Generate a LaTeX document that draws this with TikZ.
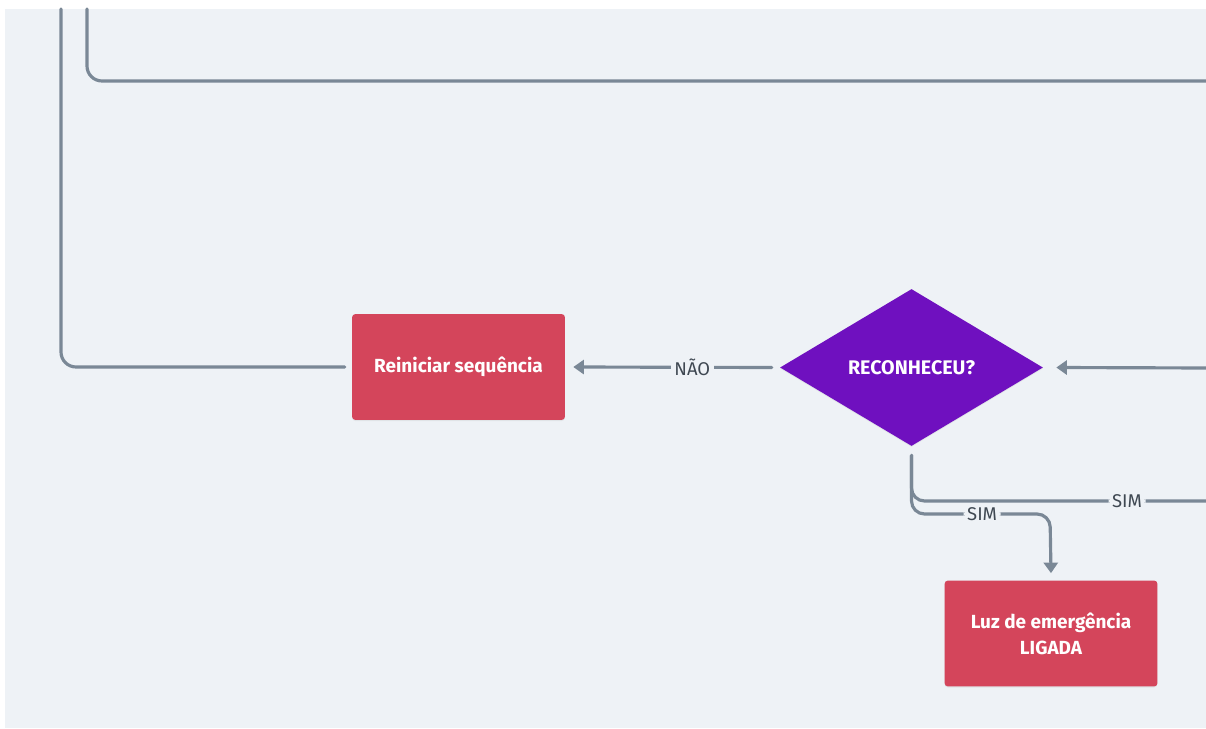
\documentclass[tikz,border=0pt]{standalone}
\usepackage{fontspec}
\setmainfont{Fira Sans}
\usepackage{tikz}
\usetikzlibrary{shapes.geometric,arrows.meta,shadows}

\definecolor{fundo}{RGB}{238,242,246}
\definecolor{cinza}{RGB}{122,136,150}
\definecolor{vermelho}{RGB}{212,69,91}
\definecolor{roxo}{RGB}{111,16,191}
\definecolor{texto}{RGB}{63,72,82}

\tikzset{
	linha/.style={draw=cinza, line width=1.8pt, line cap=round},
	seta/.style={linha, -{Triangle[length=6pt,width=8pt]}},
	caixa/.style={rectangle, fill=vermelho, rounded corners=2pt, minimum width=4.26cm, minimum height=2.12cm,
		text=white, align=center, font=\bfseries\fontsize{10.8}{14.7}\selectfont,
		drop shadow={opacity=0.12, shadow xshift=0pt, shadow yshift=-0.6pt}},
	decisao/.style={diamond, fill=roxo, minimum width=5.26cm, minimum height=3.14cm, inner sep=0pt,
		shape aspect=1.675, text=white, font=\bfseries\fontsize{11.2}{13}\selectfont,
		drop shadow={opacity=0.12, shadow xshift=0pt, shadow yshift=-0.6pt}},
	rotulo/.style={fill=fundo, text=texto, inner sep=2pt, font=\fontsize{10.5}{12}\selectfont}
}

\begin{document}
\begin{tikzpicture}[x=0.02cm, y=-0.02cm]
		\useasboundingbox (0,0) rectangle (1206,729);
		\fill[white] (0,0) rectangle (1206,729);
		\fill[fundo] (5,9) rectangle (1206,728);

		%Nodos
		\node [caixa] (reiniciar) at (458.5,367) {Reiniciar sequência};
		\node [decisao] (reconheceu) at (911.5,367.5) {RECONHECEU?};
		\node [caixa] (luz) at (1051,633.5) {Luz de emergência\\LIGADA};

		%Pontas soltas
		\coordinate (topo1) at (61,9);
		\coordinate (topo2) at (87,9);
		\coordinate (borda0) at (1206,81);
		\coordinate (borda1) at (1206,368);
		\coordinate (borda2) at (1206,501);
		\coordinate (ramo) at (1050,514);

		%Arcos
		\draw[linha, rounded corners=0.3cm] (topo2) |- (borda0);
		\draw[linha, rounded corners=0.3cm] ([xshift=-0.14cm]reiniciar.west) -| (topo1);
		\draw[seta] ([xshift=-0.16cm]reconheceu.west) -- node[rotulo, pos=0.4] {NÃO} ([xshift=0.16cm]reiniciar.east);
		\draw[seta] (borda1) -- ([xshift=0.26cm]reconheceu.east);
		\draw[linha, rounded corners=0.26cm] ([yshift=-0.18cm]reconheceu.south) |- node[rotulo, pos=0.866] {SIM} (borda2);
		\draw[seta, rounded corners=0.26cm] ([yshift=-0.18cm]reconheceu.south) |- node[rotulo, pos=0.755] {SIM} (ramo) -- ([yshift=0.14cm]luz.north);
\end{tikzpicture}
\end{document}
